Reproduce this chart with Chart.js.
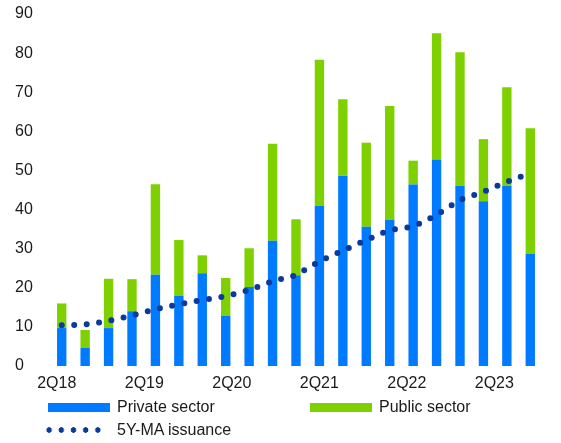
<!DOCTYPE html>
<html>
<head>
<meta charset="utf-8">
<script src="https://cdn.jsdelivr.net/npm/chart.js@4.4.0/dist/chart.umd.min.js"></script>
<style>
  html, body { margin: 0; padding: 0; background: #fff; }
  #wrap { position: relative; width: 561px; height: 443px; }
  #legend { position: absolute; left: 0; top: 0; font: 16px "Liberation Sans", Arial, sans-serif; color: #1a1a1a; }
  .item { position: absolute; height: 20px; display: flex; align-items: center; white-space: nowrap; }
  .swatch { width: 62px; height: 9px; margin-right: 7px; }
  .dots { width: 61px; height: 8px; margin-right: 13px; }
</style>
</head>
<body>
<div id="wrap">
  <canvas id="issuance" width="561" height="443"></canvas>
  <div id="legend"></div>
</div>
<script>
// Quarters (one bar per quarter)
const quarters = ['2Q18', '3Q18', '4Q18', '1Q19', '2Q19', '3Q19', '4Q19', '1Q20', '2Q20', '3Q20', '4Q20',
                  '1Q21', '2Q21', '3Q21', '4Q21', '1Q22', '2Q22', '3Q22', '4Q22', '1Q23', '2Q23'];
const privateSector = [9.7, 4.6, 9.7, 14.0, 23.3, 17.9, 23.7, 12.8, 20.2, 32.0, 23.2,
                       41.0, 48.6, 35.6, 37.4, 46.4, 52.8, 46.1, 42.1, 46.1, 28.7];
const publicSector = [6.3, 4.6, 12.6, 8.2, 23.2, 14.3, 4.6, 9.7, 9.9, 24.8, 14.3,
                      37.3, 19.6, 21.5, 29.1, 6.1, 32.3, 34.1, 15.9, 25.2, 32.1];
const maIssuance = [10.4, 10.6, 11.5, 12.9, 14.5, 15.8, 16.9, 17.8, 19.4, 21.7, 23.2,
                    26.8, 29.5, 32.2, 34.8, 35.6, 38.6, 42.5, 44.5, 47.1, 49.3];
// Axis labels shown under the bars
const axisLabels = ['2Q18', '2Q19', '2Q20', '2Q21', '2Q22', '2Q23'];

const BLUE = '#007aff';
const GREEN = '#7ed000';
const NAVY = '#0a3a9c';
const FONT = { family: '"Liberation Sans", Arial, sans-serif', size: 16 };

// label positions in category units (labels sit slightly left of every 4th bar)
const labelPos = axisLabels.map((_, i) => -0.21 + 3.735 * i);

const chart = new Chart(document.getElementById('issuance').getContext('2d'), {
    type: 'bar',
    data: {
        labels: quarters,
        datasets: [
            {
                type: 'line',
                label: '5Y-MA issuance',
                data: maIssuance,
                stack: 'ma',
                borderColor: NAVY,
                borderWidth: 6,
                borderDash: [0, 12.5],
                borderCapStyle: 'round',
                pointRadius: 0,
                fill: false,
                tension: 0,
                order: 0
            },
            {
                label: 'Private sector',
                data: privateSector,
                backgroundColor: BLUE,
                stack: 'bars',
                barPercentage: 0.4,
                categoryPercentage: 1,
                order: 1
            },
            {
                label: 'Public sector',
                data: publicSector,
                backgroundColor: GREEN,
                stack: 'bars',
                barPercentage: 0.4,
                categoryPercentage: 1,
                order: 1
            }
        ]
    },
    options: {
        responsive: false,
        animation: false,
        layout: { padding: { left: 15, right: 19, top: 14, bottom: 51 } },
        plugins: { legend: { display: false }, tooltip: { enabled: false } },
        scales: {
            x: { type: 'category', stacked: true, offset: true, display: false },
            xl: {
                type: 'linear',
                position: 'bottom',
                offset: false,
                min: -0.5,
                max: 20.5,
                grid: { display: false, drawTicks: false, offset: false },
                border: { display: false },
                afterBuildTicks: (scale) => { scale.ticks = labelPos.map(v => ({ value: v })); },
                afterFit: (scale) => {
                    scale.height = 26;
                    scale.paddingLeft = 0;
                    scale.paddingRight = 0;
                },
                ticks: {
                    autoSkip: false,
                    maxRotation: 0,
                    padding: 8,
                    color: '#1a1a1a',
                    font: FONT,
                    callback: (value, index) => axisLabels[index]
                }
            },
            y: {
                stacked: true,
                min: 0,
                max: 90,
                grid: { display: false },
                border: { display: false },
                afterFit: (scale) => {
                    scale.width = 35;
                    scale.paddingTop = 0;
                    scale.paddingBottom = 0;
                },
                ticks: { stepSize: 10, crossAlign: 'far', padding: 17, color: '#1a1a1a', font: FONT }
            }
        }
    }
});

// HTML legend laid out like the original (two columns, MA line below)
const legend = document.getElementById('legend');
const items = [
    { ds: 1, left: 48, top: 397 },
    { ds: 2, left: 310, top: 397 },
    { ds: 0, left: 43, top: 420 }
];
items.forEach(it => {
    const ds = chart.data.datasets[it.ds];
    const el = document.createElement('div');
    el.className = 'item';
    el.style.left = it.left + 'px';
    el.style.top = it.top + 'px';
    const sw = document.createElement('span');
    if (ds.type === 'line') {
        sw.className = 'dots';
        sw.style.background = `radial-gradient(circle, ${ds.borderColor} 2.5px, transparent 3px) 0 0 / 12.2px 8px repeat-x`;
    } else {
        sw.className = 'swatch';
        sw.style.background = ds.backgroundColor;
    }
    el.appendChild(sw);
    el.appendChild(document.createTextNode(ds.label));
    legend.appendChild(el);
});
</script>
</body>
</html>
